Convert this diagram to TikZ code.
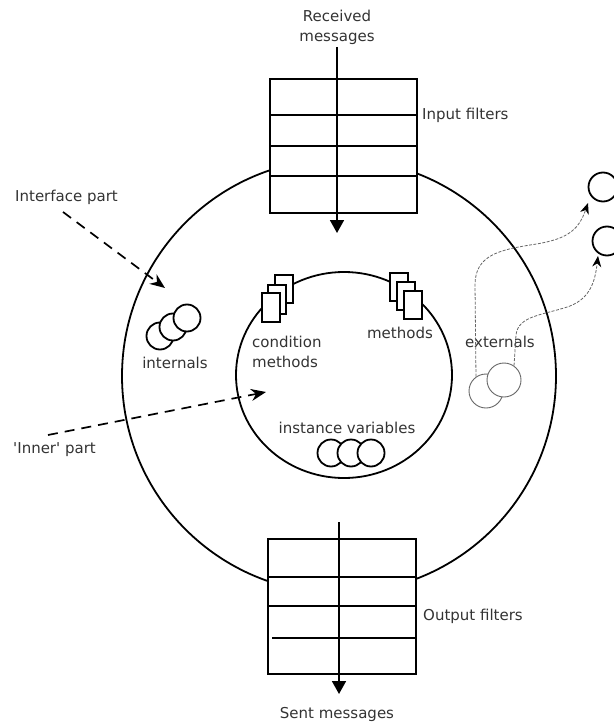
\documentclass[tikz,border=0pt]{standalone}
\usepackage{fontspec}
\setmainfont{DejaVu Sans}[Ligatures=TeXOff]
\usetikzlibrary{arrows.meta}
\begin{document}
\begin{tikzpicture}[x=1pt,y=-1pt,
  lbl/.style={inner sep=0pt, text=black!80, font=\fontsize{15}{20}\selectfont},
  heavy/.style={line width=1.8pt},
  filtbox/.style={heavy, fill=white},
  flowtip/.style={-{Triangle[length=13pt,width=14pt]}},
  dashtip/.style={line width=1.7pt, dash pattern=on 10pt off 7pt, -{Stealth[length=15pt,width=12pt]}},
  extline/.style={line width=0.8pt, black!60, dash pattern=on 3pt off 1.5pt, -{Stealth[length=11pt,width=9pt,black]}},
  ball/.style={circle, draw, heavy, fill=white, inner sep=0pt, minimum size=26pt},
  extball/.style={circle, draw=black!60, line width=0.9pt, fill=white, inner sep=0pt, minimum size=34pt},
  doc/.style={heavy, fill=white}
]
\useasboundingbox (0,0) rectangle (613,722);

% outer and inner circles
\draw[heavy] (339,376) circle [radius=217];
\draw[heavy] (344,375) ellipse [x radius=108, y radius=103];

% input filters
\draw[filtbox] (270,79) rectangle (417,213);
\draw[heavy] (270,115) -- (417,115);
\draw[heavy] (270,146) -- (417,146);
\draw[heavy] (270,176) -- (417,176);
\node[lbl, align=center] (recv) at (337,27) {Received\\messages};
\coordinate (rin) at (337,47);
\coordinate (rout) at (337,233);
\draw[heavy, flowtip] (rin) -- (rout);
\node[lbl, anchor=west] (infilt) at (422,115) {Input filters};

% output filters
\draw[filtbox] (268,539) rectangle (416,674);
\draw[heavy] (268,577) -- (416,577);
\draw[heavy] (268,606) -- (416,606);
\draw[heavy] (272,638) -- (416,638);
\coordinate (sin) at (339,522);
\coordinate (sout) at (339,694);
\draw[heavy, flowtip] (sin) -- (sout);
\node[lbl] (sent) at (337,714) {Sent messages};
\node[lbl, anchor=west] (outfilt) at (423,616) {Output filters};

% interface part
\node[lbl, anchor=west] (iface) at (15,197) {Interface part};
\coordinate (ifs) at (63,212);
\coordinate (ife) at (165,288);
\draw[dashtip] (ifs) -- (ife);

% inner part
\node[lbl, anchor=west] (inner) at (13,450) {'Inner' part};
\coordinate (ins) at (48,435);
\coordinate (ine) at (266,392);
\draw[dashtip] (ins) -- (ine);

% internals
\node[ball, minimum size=27pt] (i1) at (160,336) {};
\node[ball, minimum size=27pt] (i2) at (173,327) {};
\node[ball, minimum size=27pt] (i3) at (187,318) {};
\node[lbl] (internals) at (175,363) {internals};

% condition methods documents
\draw[doc] (275,275) rectangle ++(18,28);
\draw[doc] (268,285) rectangle ++(18,29);
\draw[doc] (262,293) rectangle ++(18,29);
\node[lbl, anchor=west, align=left] (condm) at (252,352) {condition\\methods};

% methods documents
\draw[doc] (390,273) rectangle ++(18,28);
\draw[doc] (397,282) rectangle ++(18,28);
\draw[doc] (404,291) rectangle ++(18,28);
\node[lbl] (meth) at (400,333) {methods};

% instance variables
\node[lbl] (instv) at (347,428) {instance variables};
\node[ball, minimum size=27pt] (v1) at (331,453) {};
\node[ball, minimum size=27pt] (v2) at (351,453) {};
\node[ball, minimum size=27pt] (v3) at (371,453) {};

% externals
\node[lbl] (ext) at (500,342) {externals};
\node[extball] (e1) at (486,391) {};
\node[extball] (e2) at (504,380) {};
\node[ball, minimum size=29pt] (t1) at (603,187) {};
\node[ball, minimum size=29pt] (t2) at (607,241) {};
\coordinate (tip1) at (588,203);
\coordinate (tip2) at (598,256);
\draw[extline] (e1.125) -- (475,285) .. controls (475,255) and (500,250) .. (530,245)
   .. controls (565,240) and (578,232) .. (tip1);
\draw[extline] (e2.55) -- (516,335) .. controls (518,315) and (545,315) .. (570,306)
   .. controls (590,298) and (595,282) .. (tip2);
\end{tikzpicture}
\end{document}
